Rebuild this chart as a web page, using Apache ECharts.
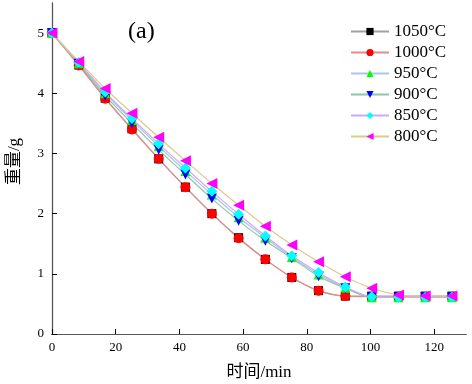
<!DOCTYPE html>
<html>
<head>
<meta charset="utf-8">
<script src="https://cdn.jsdelivr.net/npm/echarts@6/dist/echarts.min.js"></script>
<style>html,body{margin:0;padding:0;background:#fff}#c{width:472px;height:384px}</style>
</head>
<body>
<div id="c"></div>
<script>
var times = [0, 8.4, 16.7, 25.1, 33.5, 41.9, 50.2, 58.6, 67.0, 75.3, 83.7, 92.1, 100.4, 108.8, 117.2, 125.6];
var names = ['1050\u00b0C', '1000\u00b0C', '950\u00b0C', '900\u00b0C', '850\u00b0C', '800\u00b0C'];
var w1050 = [5.0, 4.47, 3.92, 3.41, 2.91, 2.44, 2.00, 1.60, 1.24, 0.94, 0.72, 0.63, 0.63, 0.63, 0.63, 0.63];
var w1000 = [5.0, 4.46, 3.91, 3.40, 2.91, 2.44, 2.00, 1.59, 1.24, 0.94, 0.72, 0.63, 0.62, 0.62, 0.62, 0.62];
var w950  = [5.0, 4.50, 4.00, 3.55, 3.12, 2.71, 2.32, 1.94, 1.60, 1.28, 0.99, 0.77, 0.61, 0.61, 0.61, 0.61];
var w900  = [5.0, 4.49, 3.96, 3.50, 3.06, 2.65, 2.25, 1.88, 1.55, 1.26, 0.96, 0.76, 0.61, 0.61, 0.61, 0.61];
var w850  = [5.0, 4.51, 4.02, 3.58, 3.16, 2.76, 2.37, 1.99, 1.63, 1.30, 1.02, 0.78, 0.62, 0.61, 0.61, 0.61];
var w800  = [5.0, 4.53, 4.08, 3.67, 3.27, 2.88, 2.50, 2.14, 1.79, 1.48, 1.20, 0.95, 0.76, 0.65, 0.63, 0.63];

var allData = [w1050, w1000, w950, w900, w850, w800];
var markerColors = ['#000000', '#ff0000', '#00ff00', '#0000ff', '#00ffff', '#ff00ff'];
var lineColors = ['#a0a0a0', '#e88a8a', '#a9c6e8', '#8cc6a8', '#cfaaf0', '#e0c88a'];
var symbols = ['rect', 'circle', 'triangle', 'path://M0,0 L10,0 L5,10 Z', 'diamond', 'path://M10,0 L10,10 L0,5 Z'];
var symbolSizes = [9, 10, 10, 10, 11, 11];

var serif = '"Liberation Serif", "Noto Sans CJK SC", serif';

var series = allData.map(function (d, k) {
  return {
    name: names[k],
    type: 'line',
    smooth: 0.3,
    data: d.map(function (v, i) { return [times[i], v]; }),
    symbol: symbols[k],
    symbolSize: symbolSizes[k],
    showAllSymbol: true,
    itemStyle: { color: markerColors[k] },
    lineStyle: { color: lineColors[k], width: 1.2 },
    emphasis: { disabled: true },
    animation: false
  };
});

var chart = echarts.init(document.getElementById('c'), null, { renderer: 'canvas' });
chart.setOption({
  backgroundColor: '#fff',
  animation: false,
  grid: { left: 52, right: 6, top: 3, bottom: 50, containLabel: false, outerBoundsMode: 'none' },
  legend: {
    data: names.map(function (n, k) { return { name: n, itemStyle: { color: markerColors[k] } }; }),
    orient: 'vertical',
    left: 345,
    top: 18,
    itemWidth: 38,
    itemHeight: 9,
    itemGap: 4,
    itemSymbolSize: 9,
    textStyle: { fontFamily: serif, fontSize: 17, color: '#000' },
    selectedMode: false
  },
  graphic: [{
    type: 'text',
    left: 128,
    top: 20,
    style: { text: '(a)', font: '24px "Liberation Serif", serif', fill: '#000' }
  }],
  xAxis: [{
    type: 'value',
    min: 0, max: 130, interval: 20,
    name: '\u65f6\u95f4/min',
    nameLocation: 'middle',
    nameGap: 30,
    nameTextStyle: { fontFamily: serif, fontSize: 17, color: '#000' },
    axisLine: { show: true, lineStyle: { color: '#000', width: 1.2 } },
    axisTick: { show: true, inside: true, length: 5, lineStyle: { color: '#000' } },
    axisLabel: { fontFamily: serif, fontSize: 13, color: '#000', margin: 7,
      showMaxLabel: false },
    splitLine: { show: false }
  }, {
    type: 'value', position: 'top', min: 0, max: 130,
    axisLine: { show: true, lineStyle: { color: '#555', width: 1 } },
    axisTick: { show: false }, axisLabel: { show: false }, splitLine: { show: false }
  }],
  yAxis: [{
    type: 'value',
    min: 0, max: 5.5, interval: 1,
    name: '\u91cd\u91cf/g',
    nameLocation: 'middle',
    nameGap: 29,
    nameTextStyle: { fontFamily: serif, fontSize: 17, color: '#000', padding: [0, 0, 0, 14] },
    axisLine: { show: true, lineStyle: { color: '#000', width: 1.2 } },
    axisTick: { show: true, inside: true, length: 5, lineStyle: { color: '#000' } },
    axisLabel: { fontFamily: serif, fontSize: 13, color: '#000', margin: 8, showMaxLabel: false },
    splitLine: { show: false }
  }, {
    type: 'value', position: 'right', min: 0, max: 5.5,
    axisLine: { show: true, lineStyle: { color: '#555', width: 1 } },
    axisTick: { show: false }, axisLabel: { show: false }, splitLine: { show: false }
  }],
  series: series
});
</script>
</body>
</html>
